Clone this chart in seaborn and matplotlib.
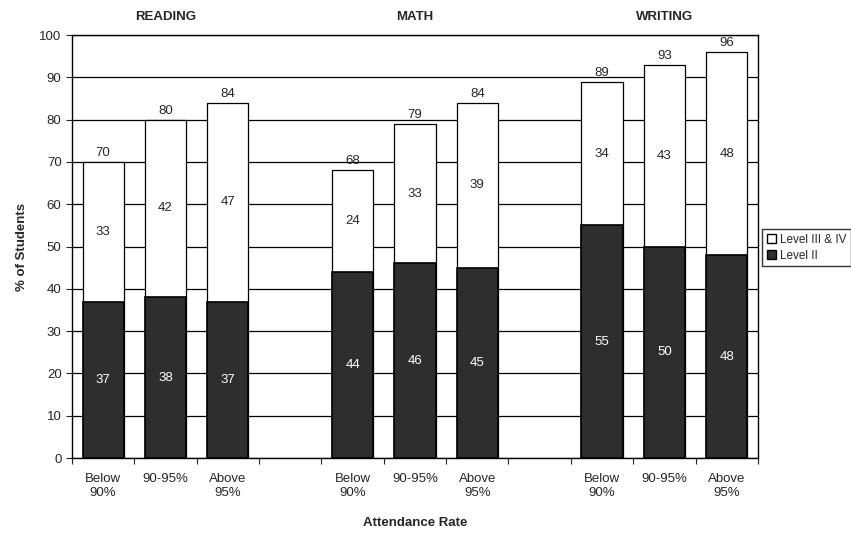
import matplotlib
matplotlib.use("Agg")
import matplotlib.pyplot as plt
import seaborn as sns
import pandas as pd
import numpy as np
from matplotlib.patches import Patch

# Data
subjects = ["READING", "MATH", "WRITING"]
rates = ["Below\n90%", "90-95%", "Above\n95%"]
level2 = [37, 38, 37, 44, 46, 45, 55, 50, 48]
level34 = [33, 42, 47, 24, 33, 39, 34, 43, 48]
totals = [70, 80, 84, 68, 79, 84, 89, 93, 96]

keys = [f"{s}|{r}" for s in subjects for r in rates]
df = pd.DataFrame({"key": keys, "level2": level2, "level34": level34, "total": totals})

# slot order with blank gaps between subject groups
order = keys[0:3] + ["gap1"] + keys[3:6] + ["gap2"] + keys[6:9]

sns.set_style("white")
plt.rcParams["font.family"] = ["Liberation Sans", "DejaVu Sans"]

fig = plt.figure(figsize=(8.51, 5.36), dpi=100)
ax = fig.add_axes([0.0846, 0.1455, 0.806, 0.789])

ax.set_axisbelow(True)
ax.yaxis.grid(True, color="black", linewidth=0.9)

sns.barplot(data=df, x="key", y="total", order=order, color="white",
            width=0.66, edgecolor="black", linewidth=0.9, ax=ax, saturation=1)
sns.barplot(data=df, x="key", y="level2", order=order, color="#2e2e2e",
            width=0.66, edgecolor="black", linewidth=1.2, ax=ax, saturation=1)

# value labels
fs = 9.5
for i, k in enumerate(keys):
    x = order.index(k)
    ax.text(x, totals[i] + 0.7, str(totals[i]), ha="center", va="bottom", fontsize=fs)
    ax.text(x, level2[i] + level34[i] / 2, str(level34[i]), ha="center", va="center", fontsize=fs)
    ax.text(x, level2[i] / 2, str(level2[i]), ha="center", va="center", fontsize=fs, color="white")

ax.set_xlim(-0.5, len(order) - 0.5)
ax.set_ylim(0, 100)
ax.set_yticks(np.arange(0, 101, 10))
ax.tick_params(axis="y", labelsize=fs, length=4, direction="out", left=True)

# ticks at slot boundaries, labels under bars
ax.set_xticks(np.arange(-0.5, len(order), 1.0))
ax.set_xticklabels([])
ax.tick_params(axis="x", which="major", length=4, direction="out", bottom=True)
label_pos = [order.index(k) for k in keys]
ax.set_xticks(label_pos, minor=True)
ax.set_xticklabels(rates * 3, minor=True, fontsize=fs)
ax.tick_params(axis="x", which="minor", length=0, pad=11)

for sp in ax.spines.values():
    sp.set_color("black")
    sp.set_linewidth(1.0)

ax.set_xlabel("Attendance Rate", fontsize=fs, fontweight="bold", labelpad=13)
ax.set_ylabel("% of Students", fontsize=fs, fontweight="bold", labelpad=8)

# group titles
for g, s in enumerate(subjects):
    ax.text(g * 4 + 1, 104.3, s, ha="center", va="center", fontsize=fs, fontweight="bold")

handles = [Patch(facecolor="white", edgecolor="black", label="Level III & IV"),
           Patch(facecolor="#2e2e2e", edgecolor="black", label="Level II")]
ax.legend(handles=handles, loc="center left", bbox_to_anchor=(1.006, 0.497),
          fontsize=8.5, frameon=True, fancybox=False, edgecolor="black",
          handlelength=0.8, handleheight=0.8, handletextpad=0.3,
          borderpad=0.4, labelspacing=0.3, borderaxespad=0)

fig.savefig("out.png", dpi=100)
